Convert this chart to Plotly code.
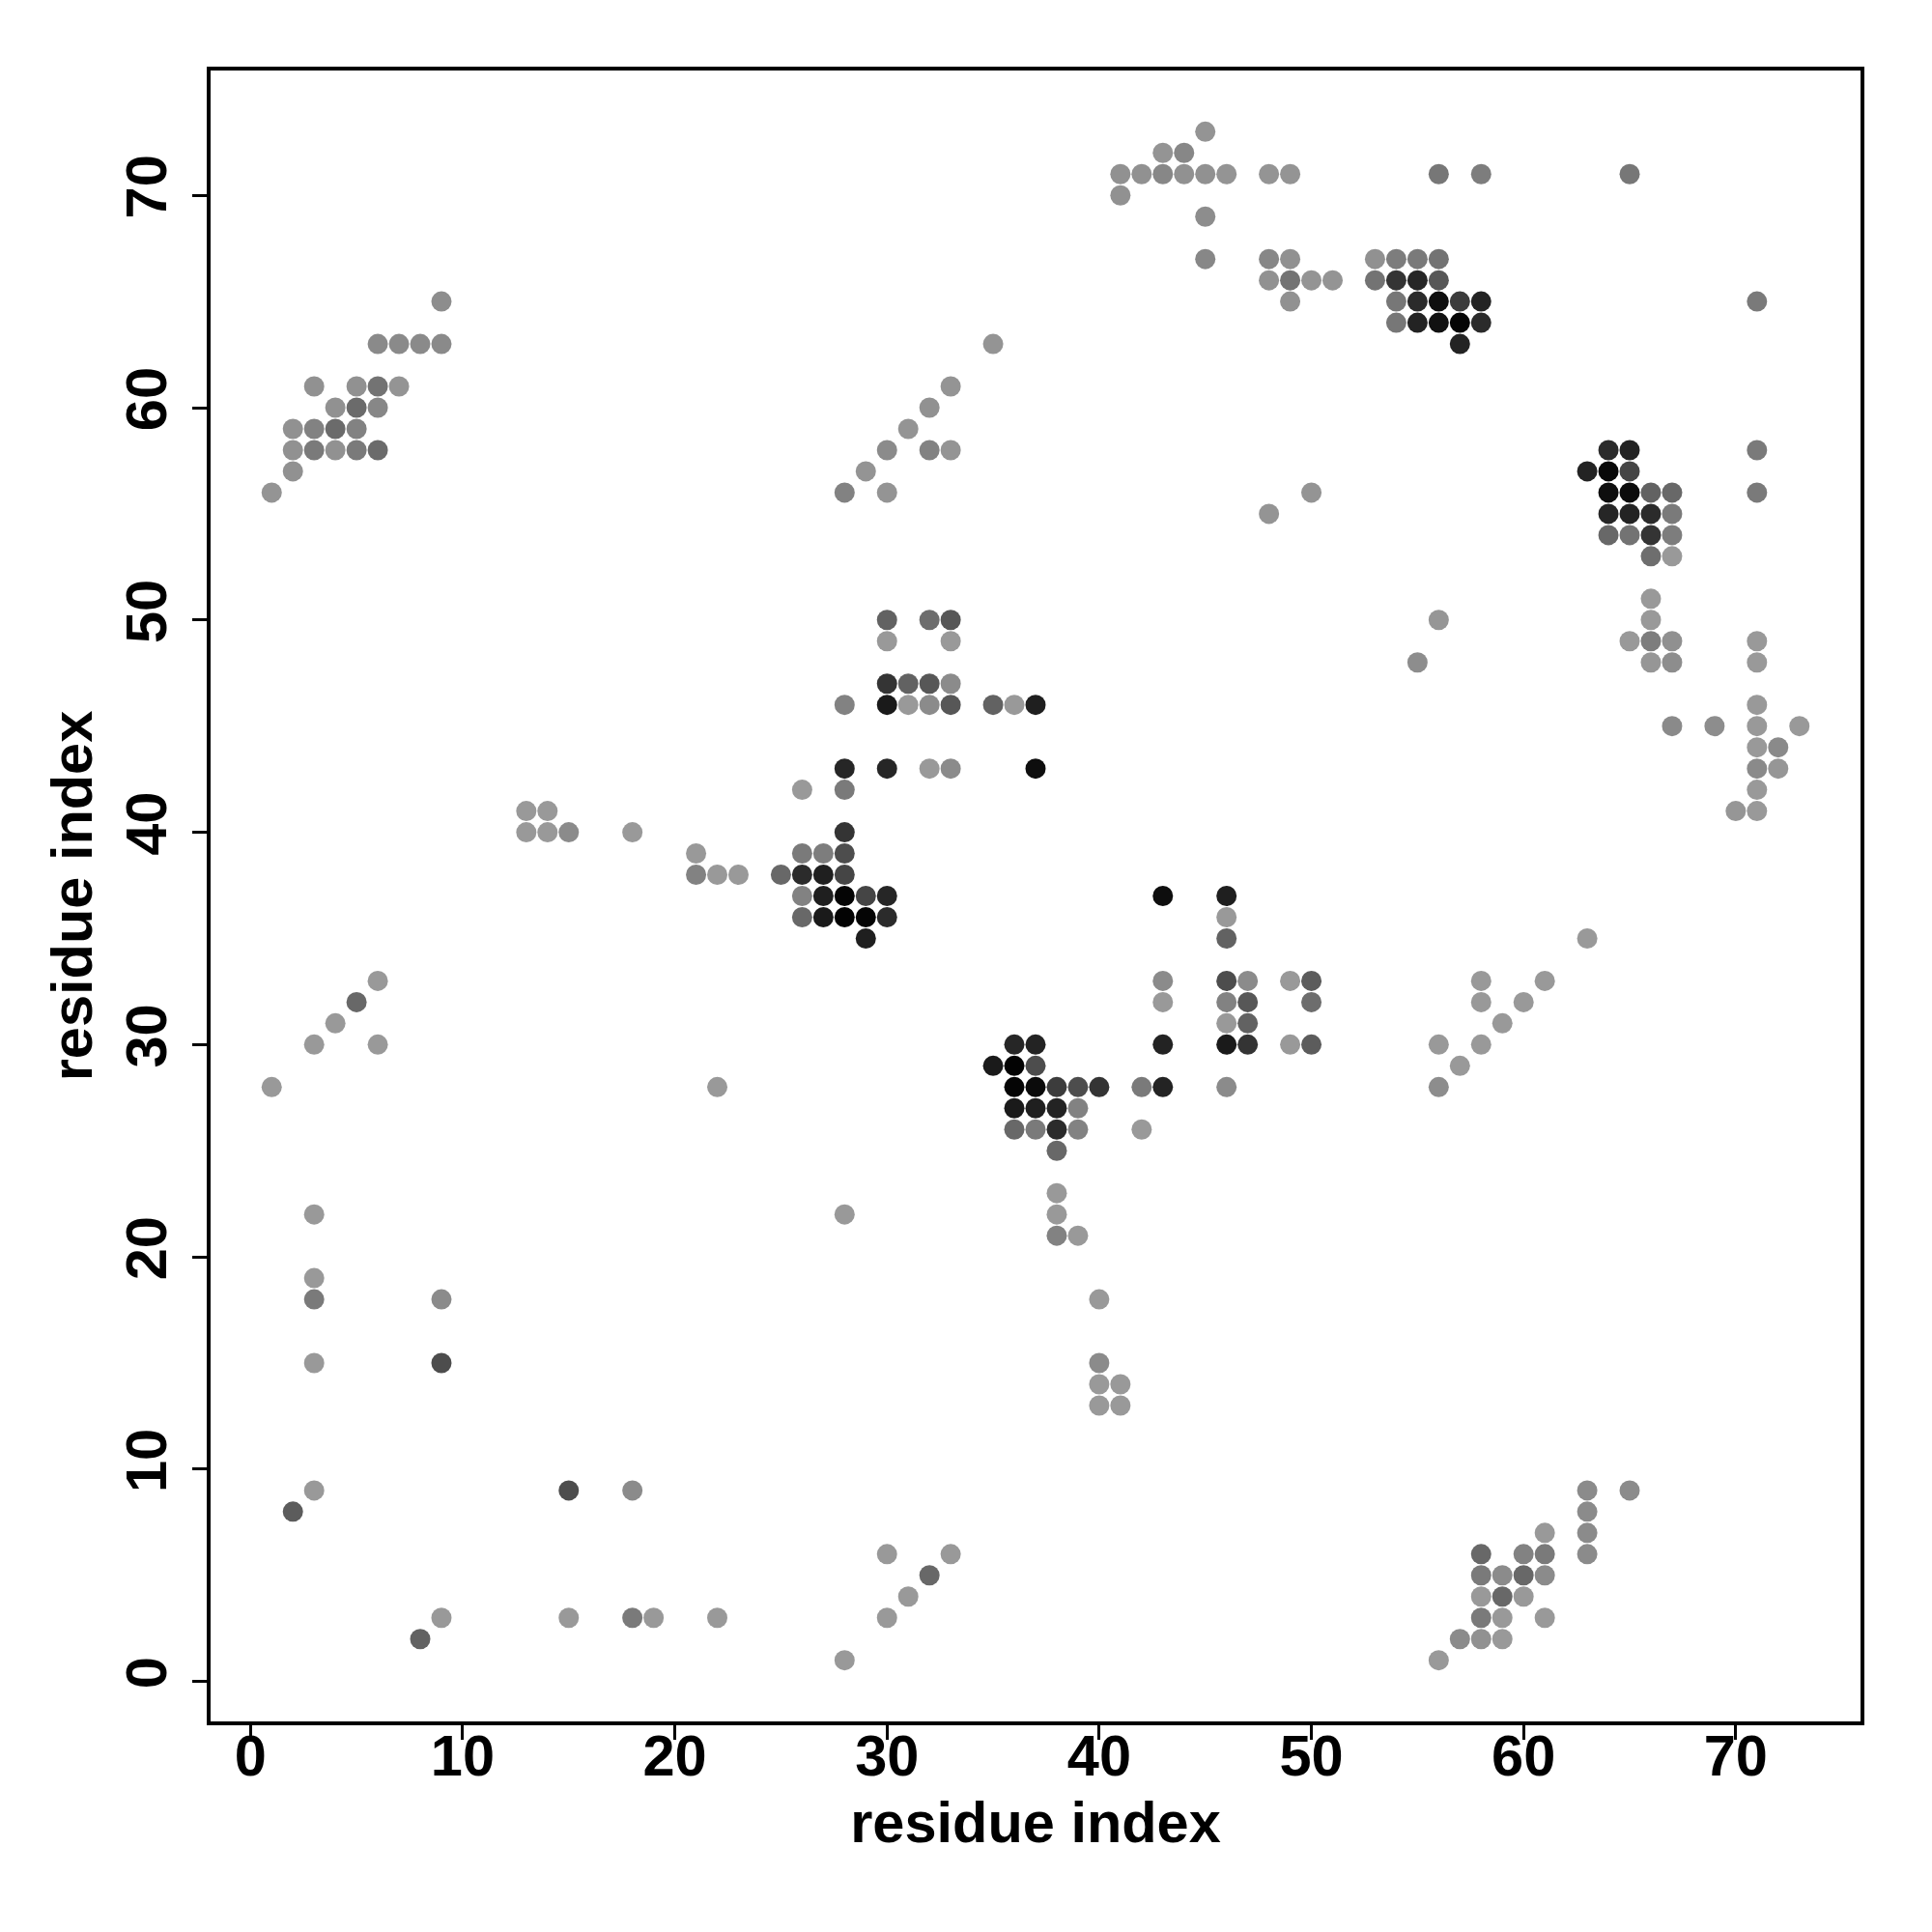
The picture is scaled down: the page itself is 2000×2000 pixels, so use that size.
import plotly.graph_objects as go

# residue i (x), residue j (y), contact strength (0 = weak/light, 1 = strong/black)
res_i = [
    # top-left band
    1, 2, 2, 3, 4, 5, 6, 2, 3, 4, 5, 4, 5, 6, 3, 5, 6, 7, 6, 7, 8, 9, 9,
    # top middle
    45, 43, 44, 41, 42, 43, 44, 45, 46, 48, 49, 41, 45, 45, 48, 49, 48, 49, 50, 51, 49,
    # top right block
    56, 58, 65, 53, 54, 55, 56, 53, 54, 55, 56, 54, 55, 56, 57, 58, 54, 55, 56, 57, 58, 57, 71,
    # middle diagonal
    28, 30, 29, 30, 32, 33, 31, 32, 33, 35, 48, 50,
    # right cluster
    64, 65, 71, 63, 64, 65, 64, 65, 66, 67, 71, 64, 65, 66, 67, 64, 65, 66, 67, 66, 67,
    66, 66, 65, 66, 67, 66, 67, 71, 71,
    56, 55, 71, 67, 69, 71, 73, 71, 72, 71, 72, 71, 70, 71,
    # block around 30-37 / 42-50
    30, 32, 33, 30, 33, 30, 31, 32, 33, 28, 30, 31, 32, 33, 35, 36, 37,
    28, 30, 32, 33, 37, 26, 28,
    # block around 13-30 / 35-41
    13, 14, 13, 14, 15, 18, 28, 21, 26, 27, 28, 21, 22, 23, 25, 26, 27, 28,
    26, 27, 28, 29, 30, 26, 27, 28, 29, 30, 29,
    # block around 35-50 / 25-37
    43, 46, 46, 46, 43, 46, 47, 49, 50, 43, 46, 47, 50, 46, 47,
    36, 37, 43, 46, 47, 49, 50, 35, 36, 37, 36, 37, 38, 39, 40, 42, 43, 46,
    36, 37, 38, 39, 36, 37, 38, 39, 42, 38,
    # right diagonal 56-63 / 28-35
    56, 56, 57, 58, 58, 58, 59, 60, 61, 63,
    # lower left
    1, 3, 4, 5, 6, 6, 22, 3, 3, 3, 9, 3, 9, 3, 2, 15, 18, 9, 8, 15, 18, 19, 22,
    # lower middle
    28, 38, 38, 38, 39, 40, 40, 40, 41, 40, 41, 30, 33, 32, 31, 30, 28,
    # lower right
    56, 57, 58, 59, 58, 59, 61, 58, 59, 60, 58, 59, 60, 61, 58, 60, 61, 63,
    61, 63, 63, 63, 65,
]
res_j = [
    56, 57, 58, 58, 58, 58, 58, 59, 59, 59, 59, 60, 60, 60, 61, 61, 61, 61, 63, 63, 63, 63, 65,
    73, 72, 72, 71, 71, 71, 71, 71, 71, 71, 71, 70, 69, 67, 67, 67, 66, 66, 66, 66, 65,
    71, 71, 71, 67, 67, 67, 67, 66, 66, 66, 66, 65, 65, 65, 65, 65, 64, 64, 64, 64, 64, 63, 65,
    56, 56, 57, 58, 58, 58, 59, 60, 61, 63, 55, 56,
    58, 58, 58, 57, 57, 57, 56, 56, 56, 56, 56, 55, 55, 55, 55, 54, 54, 54, 54, 53, 53,
    51, 50, 49, 49, 49, 48, 48, 49, 48,
    50, 48, 46, 45, 45, 45, 45, 44, 44, 43, 43, 42, 41, 41,
    50, 50, 50, 49, 49, 47, 47, 47, 47, 46, 46, 46, 46, 46, 46, 46, 46,
    43, 43, 43, 43, 43, 42, 42,
    41, 41, 40, 40, 40, 40, 40, 39, 39, 39, 39, 38, 38, 38, 38, 38, 38, 38,
    37, 37, 37, 37, 37, 36, 36, 36, 36, 36, 35,
    37, 37, 36, 35, 33, 33, 33, 33, 33, 32, 32, 32, 32, 31, 31,
    30, 30, 30, 30, 30, 30, 30, 29, 29, 29, 28, 28, 28, 28, 28, 28, 28, 28,
    27, 27, 27, 27, 26, 26, 26, 26, 26, 25,
    30, 28, 29, 33, 32, 30, 31, 32, 33, 35,
    28, 30, 31, 32, 33, 30, 28, 22, 19, 18, 18, 15, 15, 9, 8, 9, 9, 3, 2, 3, 3, 3, 3,
    22, 23, 22, 21, 21, 18, 15, 14, 14, 13, 13, 6, 6, 5, 4, 3, 1,
    1, 2, 2, 2, 3, 3, 3, 4, 4, 4, 5, 5, 5, 5, 6, 6, 6, 6,
    7, 7, 8, 9, 9,
]
contact = [
    0.03, 0.05, 0.05, 0.20, 0.05, 0.20, 0.30, 0.05, 0.15, 0.30, 0.15, 0.05, 0.30, 0.12,
    0.05, 0.05, 0.25, 0.03, 0.10, 0.10, 0.10, 0.10, 0.08,
    0.03, 0.03, 0.12, 0.05, 0.05, 0.12, 0.05, 0.05, 0.03, 0.03, 0.03, 0.05, 0.08,
    0.12, 0.12, 0.05, 0.05, 0.25, 0.03, 0.03, 0.05,
    0.22, 0.18, 0.22, 0.05, 0.18, 0.20, 0.25, 0.25, 0.66, 0.75, 0.43, 0.22, 0.72, 0.91,
    0.61, 0.77, 0.22, 0.77, 0.89, 0.97, 0.72, 0.77, 0.20,
    0.15, 0.03, 0.03, 0.09, 0.15, 0.03, 0.03, 0.05, 0.03, 0.03, 0.03, 0.03,
    0.72, 0.77, 0.20, 0.77, 0.95, 0.55, 0.91, 0.93, 0.36, 0.32, 0.20, 0.75, 0.77, 0.72,
    0.20, 0.32, 0.25, 0.66, 0.18, 0.28, 0.00,
    0.00, 0.00, 0.00, 0.18, 0.06, 0.02, 0.08, 0.00, 0.00,
    0.02, 0.08, 0.00, 0.10, 0.08, 0.00, 0.00, 0.00, 0.10, 0.10, 0.02, 0.00, 0.02, 0.00,
    0.36, 0.29, 0.43, 0.00, 0.00, 0.66, 0.36, 0.43, 0.09, 0.15, 0.83, 0.00, 0.09, 0.43,
    0.36, 0.00, 0.80,
    0.75, 0.75, 0.00, 0.09, 0.91, 0.00, 0.20,
    0.00, 0.00, 0.00, 0.00, 0.09, 0.00, 0.66, 0.00, 0.20, 0.18, 0.50, 0.15, 0.00, 0.00,
    0.32, 0.72, 0.80, 0.55,
    0.15, 0.80, 0.97, 0.55, 0.75, 0.32, 0.83, 0.98, 0.97, 0.72, 0.80,
    0.91, 0.80, 0.00, 0.36, 0.09, 0.50, 0.09, 0.00, 0.40, 0.00, 0.15, 0.43, 0.29, 0.00, 0.36,
    0.75, 0.77, 0.77, 0.83, 0.66, 0.00, 0.40, 0.83, 0.98, 0.50, 0.97, 0.93, 0.61, 0.50,
    0.66, 0.20, 0.77, 0.09,
    0.83, 0.80, 0.77, 0.15, 0.32, 0.20, 0.72, 0.15, 0.00, 0.32,
    0.00, 0.08, 0.00, 0.00, 0.00, 0.00, 0.00, 0.00, 0.00, 0.00,
    0.00, 0.00, 0.00, 0.32, 0.00, 0.00, 0.00, 0.00, 0.00, 0.20, 0.09, 0.00, 0.50, 0.00,
    0.40, 0.50, 0.09, 0.00, 0.36, 0.00, 0.20, 0.00, 0.00,
    0.00, 0.00, 0.00, 0.15, 0.00, 0.00, 0.09, 0.00, 0.00, 0.00, 0.00, 0.00, 0.00, 0.32,
    0.00, 0.00, 0.00,
    0.00, 0.09, 0.05, 0.00, 0.20, 0.00, 0.00, 0.00, 0.32, 0.00, 0.20, 0.09, 0.32, 0.09,
    0.32, 0.15, 0.20, 0.09,
    0.00, 0.09, 0.09, 0.09, 0.09,
]

assert len(res_i) == len(res_j) == len(contact)

font_family = "Liberation Sans, Arial, Helvetica, sans-serif"

fig = go.Figure(
    go.Scatter(
        x=res_i,
        y=res_j,
        mode="markers",
        marker=dict(
            symbol="circle",
            size=21,
            color=contact,
            cmin=0,
            cmax=1,
            colorscale=[[0, "rgb(153,153,153)"], [1, "rgb(0,0,0)"]],
            line=dict(width=0),
            showscale=False,
        ),
        hoverinfo="x+y",
    )
)

axis_common = dict(
    range=[-1.88, 75.88],
    tick0=0,
    dtick=10,
    ticks="outside",
    ticklen=15,
    tickwidth=3,
    tickcolor="black",
    showline=True,
    linewidth=4,
    linecolor="black",
    mirror=True,
    showgrid=False,
    zeroline=False,
    tickfont=dict(family=font_family, size=59.5, color="black", weight="bold"),
)

fig.update_xaxes(
    **axis_common,
    ticklabelstandoff=-34,
    title=dict(
        text="residue index",
        font=dict(family=font_family, size=59.5, color="black", weight="bold"),
        standoff=16,
    ),
)
fig.update_yaxes(
    **axis_common,
    tickangle=-90,
    ticklabelstandoff=3,
    title=dict(
        text="residue index",
        font=dict(family=font_family, size=59.5, color="black", weight="bold"),
        standoff=4,
    ),
)

fig.update_layout(
    width=2000,
    height=2000,
    margin=dict(l=210, r=82, t=65, b=226, autoexpand=False),
    paper_bgcolor="white",
    plot_bgcolor="white",
    showlegend=False,
)

fig.write_html("out.html")
